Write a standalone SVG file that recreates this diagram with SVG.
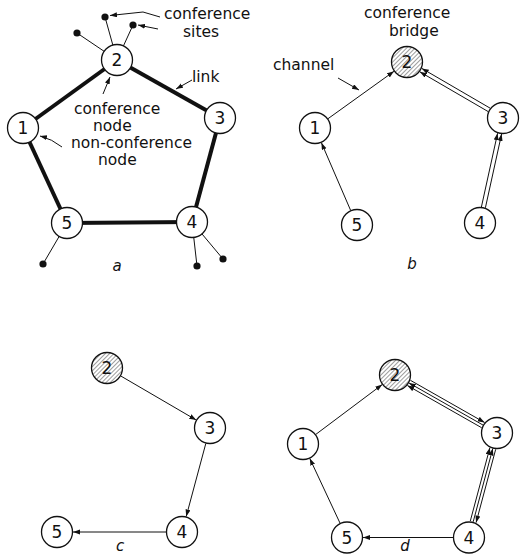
<svg xmlns="http://www.w3.org/2000/svg" width="521" height="557" viewBox="0 0 521 557">
<defs>
<marker id="ah" markerUnits="userSpaceOnUse" markerWidth="8" markerHeight="6" refX="7" refY="2.5" orient="auto"><path d="M0,0 L7,2.5 L0,5 z" fill="#111"/></marker>
<pattern id="hatch" patternUnits="userSpaceOnUse" width="3" height="3" patternTransform="rotate(45)"><line x1="0" y1="0" x2="0" y2="3" stroke="#222" stroke-width="0.9"/></pattern>
</defs>
<style>
.node circle{fill:#fff;stroke:#111;stroke-width:1.3}
.node circle.hatched{fill:url(#hatch)}
.node text{font-family:"DejaVu Sans",sans-serif;font-size:17px;text-anchor:middle;fill:#111}
.lbl{font-family:"DejaVu Sans",sans-serif;font-size:15.5px;fill:#111}
.cap{font-family:"DejaVu Sans",sans-serif;font-size:15px;font-style:italic;fill:#111;text-anchor:middle}
.thick{stroke:#111;stroke-width:4;fill:none}
.thin{stroke:#111;stroke-width:1;fill:none}
.arr{stroke:#111;stroke-width:1;fill:none;marker-end:url(#ah)}
.dot{fill:#111}
</style>
<rect width="521" height="557" fill="#fff"/>

<g id="connectors">
<!-- panel a -->
<line class="thick" x1="117" y1="60" x2="23" y2="128"/>
<line class="thick" x1="117" y1="60" x2="220" y2="118"/>
<line class="thick" x1="220" y1="118" x2="192" y2="222"/>
<line class="thick" x1="192" y1="222" x2="67" y2="223"/>
<line class="thick" x1="67" y1="223" x2="23" y2="128"/>
<line class="thin" x1="117" y1="60" x2="105" y2="17"/>
<line class="thin" x1="117" y1="60" x2="133" y2="25"/>
<line class="thin" x1="117" y1="60" x2="77" y2="33"/>
<line class="thin" x1="67" y1="223" x2="43" y2="264"/>
<line class="thin" x1="192" y1="222" x2="197" y2="266"/>
<line class="thin" x1="192" y1="222" x2="223" y2="259"/>
<path class="arr" d="M160,17 L143,12 L110,15.5"/>
<path class="arr" d="M158,29 L138,25"/>
<path class="arr" d="M192,80 L176,89"/>
<path class="arr" d="M103,94 L110,77"/>
<path class="arr" d="M62,147 Q52,139 40,136"/>
<!-- panel b -->
<line class="arr" x1="328" y1="118.7" x2="394" y2="71.3"/>
<line class="arr" x1="350.6" y1="210.3" x2="321.4" y2="142.7"/>
<line class="arr" x1="490.2" y1="108.2" x2="421.8" y2="68.4"/>
<line class="arr" x1="488.2" y1="111.6" x2="419.8" y2="71.8"/>
<line class="arr" x1="485.4" y1="207.8" x2="501.6" y2="134"/>
<line class="arr" x1="481.4" y1="207" x2="497.6" y2="133.2"/>
<path class="arr" d="M338,78 L359,90"/>
<!-- panel c -->
<line class="arr" x1="120.8" y1="376" x2="196.2" y2="420"/>
<line class="arr" x1="205.8" y1="443.5" x2="186.2" y2="516.5"/>
<line class="arr" x1="166" y1="532" x2="73" y2="532"/>
<!-- panel d -->
<line class="arr" x1="315.8" y1="434.4" x2="382.2" y2="384.6"/>
<line class="arr" x1="340.2" y1="523.5" x2="309.8" y2="458.5"/>
<line class="arr" x1="453" y1="537.5" x2="363" y2="537.5"/>
<line class="arr" x1="410.4" y1="380.3" x2="484.6" y2="422.5"/>
<line class="arr" x1="483.1" y1="425.1" x2="408.9" y2="382.9"/>
<line class="arr" x1="481.6" y1="427.7" x2="407.4" y2="385.5"/>
<line class="arr" x1="470.3" y1="521" x2="489.9" y2="447.7"/>
<line class="arr" x1="473.2" y1="521.8" x2="492.8" y2="448.5"/>
<line class="arr" x1="495.7" y1="449.3" x2="476.1" y2="522.6"/>
</g>

<g id="sites">
<circle class="dot" cx="105" cy="17" r="3.6"/>
<circle class="dot" cx="133" cy="25" r="3.6"/>
<circle class="dot" cx="77" cy="33" r="3.6"/>
<circle class="dot" cx="43" cy="264" r="3.6"/>
<circle class="dot" cx="197" cy="266" r="3.6"/>
<circle class="dot" cx="223" cy="259" r="3.6"/>
</g>

<g id="a-node-1" class="node"><circle cx="23" cy="128" r="15.5"/><text x="23" y="134">1</text></g>
<g id="a-node-2" class="node"><circle cx="117" cy="60" r="15.5"/><text x="117" y="66">2</text></g>
<g id="a-node-3" class="node"><circle cx="220" cy="118" r="15.5"/><text x="220" y="124">3</text></g>
<g id="a-node-4" class="node"><circle cx="192" cy="222" r="15.5"/><text x="192" y="228">4</text></g>
<g id="a-node-5" class="node"><circle cx="67" cy="223" r="15.5"/><text x="67" y="229">5</text></g>

<g id="b-node-1" class="node"><circle cx="315" cy="128" r="15.5"/><text x="315" y="134">1</text></g>
<g id="b-node-2" class="node"><circle class="hatched" cx="407" cy="62" r="15.5"/><text x="407" y="68">2</text></g>
<g id="b-node-3" class="node"><circle cx="503" cy="118" r="15.5"/><text x="503" y="124">3</text></g>
<g id="b-node-4" class="node"><circle cx="480" cy="223" r="15.5"/><text x="480" y="229">4</text></g>
<g id="b-node-5" class="node"><circle cx="357" cy="225" r="15.5"/><text x="357" y="231">5</text></g>

<g id="c-node-2" class="node"><circle class="hatched" cx="107" cy="368" r="15.5"/><text x="107" y="374">2</text></g>
<g id="c-node-3" class="node"><circle cx="210" cy="428" r="15.5"/><text x="210" y="434">3</text></g>
<g id="c-node-4" class="node"><circle cx="182" cy="532" r="15.5"/><text x="182" y="538">4</text></g>
<g id="c-node-5" class="node"><circle cx="57" cy="532" r="15.5"/><text x="57" y="538">5</text></g>

<g id="d-node-1" class="node"><circle cx="303" cy="444" r="15.5"/><text x="303" y="450">1</text></g>
<g id="d-node-2" class="node"><circle class="hatched" cx="395" cy="375" r="15.5"/><text x="395" y="381">2</text></g>
<g id="d-node-3" class="node"><circle cx="497" cy="433" r="15.5"/><text x="497" y="439">3</text></g>
<g id="d-node-4" class="node"><circle cx="469" cy="537.5" r="15.5"/><text x="469" y="543.5">4</text></g>
<g id="d-node-5" class="node"><circle cx="347" cy="537.5" r="15.5"/><text x="347" y="543.5">5</text></g>

<g id="labels">
<text class="lbl" x="164" y="19">conference</text>
<text class="lbl" x="183" y="37">sites</text>
<text class="lbl" x="192" y="82">link</text>
<text class="lbl" x="74" y="114">conference</text>
<text class="lbl" x="93" y="131">node</text>
<text class="lbl" x="71" y="148">non-conference</text>
<text class="lbl" x="98" y="165">node</text>
<text class="lbl" x="364" y="18">conference</text>
<text class="lbl" x="389" y="36">bridge</text>
<text class="lbl" x="273" y="70">channel</text>
<text class="cap" x="117" y="271">a</text>
<text class="cap" x="412" y="269">b</text>
<text class="cap" x="120" y="551">c</text>
<text class="cap" x="405" y="551">d</text>
</g>
</svg>
